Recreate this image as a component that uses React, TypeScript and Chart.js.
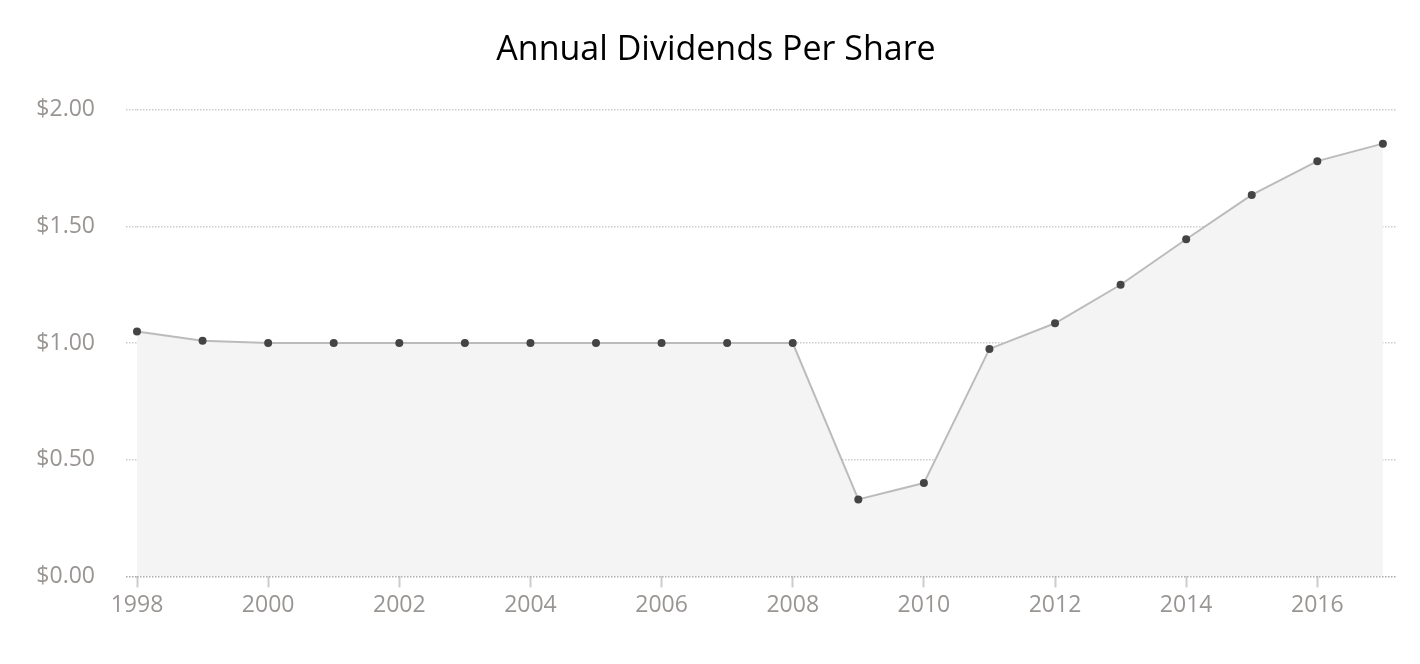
import React, { useEffect, useRef } from "react";
import { Chart, registerables } from "chart.js";

Chart.register(...registerables);

const years = [1998, 1999, 2000, 2001, 2002, 2003, 2004, 2005, 2006, 2007, 2008, 2009, 2010, 2011, 2012, 2013, 2014, 2015, 2016, 2017];
const dividends = [1.05, 1.01, 1.0, 1.0, 1.0, 1.0, 1.0, 1.0, 1.0, 1.0, 1.0, 0.33, 0.40, 0.975, 1.085, 1.25, 1.445, 1.635, 1.78, 1.855];
const yTicks = [0, 0.5, 1.0, 1.5, 2.0];
const chartTitle = "Annual Dividends Per Share";

export default function App() {
  const ref = useRef<HTMLCanvasElement | null>(null);
  useEffect(() => {
    if (!ref.current) return;
    const labelColor = "#999593";
    const chart = new Chart(ref.current, {
      type: "line",
      data: {
        datasets: [
          {
            data: years.map((y, i) => ({ x: y, y: dividends[i] })),
            borderColor: "#bbbbbb",
            borderWidth: 2,
            backgroundColor: "#f4f4f4",
            fill: "origin",
            tension: 0,
            pointRadius: 4,
            pointBackgroundColor: "#444444",
            pointBorderWidth: 0,
            clip: false,
          },
        ],
      },
      options: {
        animation: false,
        responsive: true,
        maintainAspectRatio: false,
        layout: { padding: { top: 20, left: 36, right: 24, bottom: 41 } },
        plugins: {
          legend: { display: false },
          tooltip: { enabled: false },
          title: {
            display: true,
            text: chartTitle,
            color: "#000",
            font: { family: "'Open Sans'", size: 34, weight: "normal" },
            padding: { top: 10, bottom: 39 },
          },
        },
        scales: {
          x: {
            type: "linear",
            min: 1998,
            max: 2017.2,
            border: { display: false },
            grid: {
              drawOnChartArea: false,
              drawTicks: true,
              tickLength: 11,
              tickColor: "#cccccc",
              tickWidth: 2,
            },
            ticks: {
              stepSize: 2,
              includeBounds: false,
              autoSkip: false,
              maxRotation: 0,
              padding: 4,
              color: labelColor,
              font: { family: "'Open Sans'", size: 23 },
              callback: (v: any) => String(v),
            },
          },
          y: {
            min: 0,
            max: 2,
            afterBuildTicks: (s: any) => {
              s.ticks = yTicks.map((v) => ({ value: v }));
            },
            afterFit: (s: any) => {
              s.width = 101;
            },
            border: { display: false, dash: [1.5, 1.5] },
            grid: {
              color: (c: any) => (c.tick && c.tick.value === 0 ? "#a8a8a8" : "#cccccc"),
              lineWidth: 1.5,
              drawTicks: true,
              tickLength: 11,
              tickBorderDash: [1.5, 1.5],
            },
            ticks: {
              padding: 31,
              color: labelColor,
              font: { family: "'Open Sans'", size: 23 },
              callback: (v: any) => "$" + Number(v).toFixed(2),
            },
          },
        },
      },
    });
    return () => chart.destroy();
  }, []);
  return (
    <div style={{ position: "fixed", left: 0, top: 0, width: 1420, height: 664, background: "#fff" }}>
      <canvas ref={ref} />
    </div>
  );
}
